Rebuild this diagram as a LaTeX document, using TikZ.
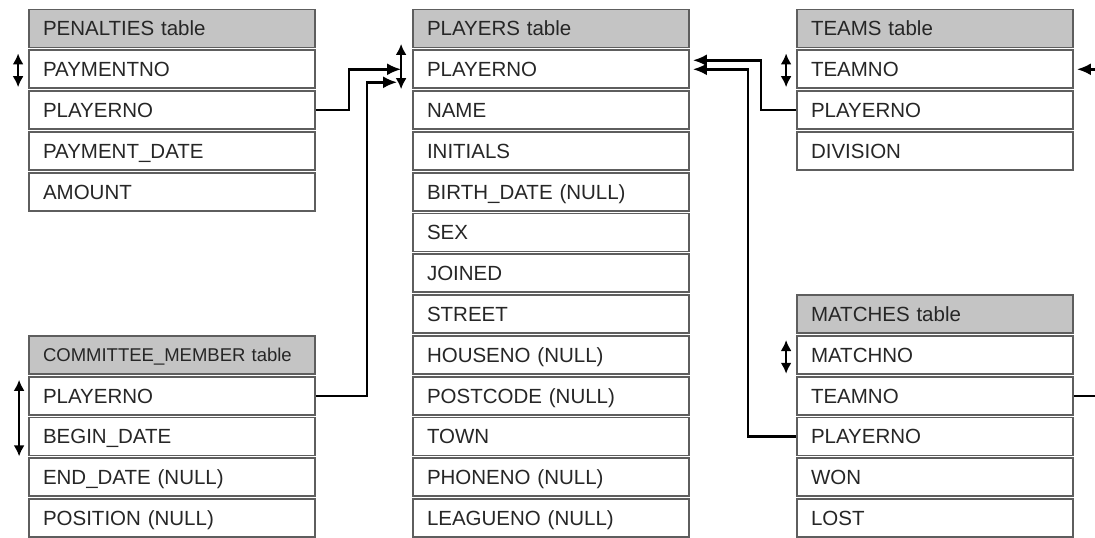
\documentclass[tikz,border=0pt]{standalone}
\usepackage{fontspec}
\setmainfont{Liberation Sans}
\usetikzlibrary{arrows.meta,calc}
\definecolor{hdr}{HTML}{C4C4C4}
\definecolor{bord}{HTML}{5E5E5E}
\definecolor{txt}{HTML}{262626}
\begin{document}
\begin{tikzpicture}[x=1pt,y=-1pt,
  cell/.style={draw=bord, line width=1.8pt, fill=white, minimum height=38pt,
    inner xsep=14pt, inner ysep=0pt, align=left, text=txt,
    text height=14.6pt, text depth=0pt,
    font=\fontsize{20.5}{22}\selectfont, anchor=center},
  wide/.style={cell, text width=258pt},
  narrow/.style={cell, text width=248pt},
  hdrcell/.style={fill=hdr},
  conn/.style={draw=black, line width=2.4pt},
  arr/.style={conn, -{Latex[length=14pt,width=12pt]}},
  pk/.style={line width=2.5pt, {Latex[length=11pt,width=11pt]}-{Latex[length=11pt,width=11pt]}}
]
\useasboundingbox (0,0) rectangle (1095,538);
\clip (0,0) rectangle (1095,538);

% PENALTIES
\node[wide,hdrcell] (pen0) at (172,28.5) {PENALTIES table};
\foreach \t [count=\k] in {PAYMENTNO,PLAYERNO,PAYMENT\_DATE,AMOUNT}
  \node[wide] (pen\k) at (172,{28.5+40.8*\k}) {\t};

% COMMITTEE_MEMBER
\node[wide,hdrcell,font=\fontsize{18.5}{21}\selectfont,text height=13.3pt] (com8) at (172,{28.5+40.8*8}) {COMMITTEE\_MEMBER table};
\foreach \t [count=\k from 9] in {PLAYERNO,BEGIN\_DATE,END\_DATE (NULL),POSITION (NULL)}
  \node[wide] (com\k) at (172,{28.5+40.8*\k}) {\t};

% PLAYERS
\node[narrow,hdrcell] (pl0) at (551,28.5) {PLAYERS table};
\foreach \t [count=\k] in {PLAYERNO,NAME,INITIALS,BIRTH\_DATE (NULL),SEX,JOINED,STREET,HOUSENO (NULL),POSTCODE (NULL),TOWN,PHONENO (NULL),LEAGUENO (NULL)}
  \node[narrow] (pl\k) at (551,{28.5+40.8*\k}) {\t};

% TEAMS
\node[narrow,hdrcell] (tm0) at (935,28.5) {TEAMS table};
\foreach \t [count=\k] in {TEAMNO,PLAYERNO,DIVISION}
  \node[narrow] (tm\k) at (935,{28.5+40.8*\k}) {\t};

% MATCHES
\node[narrow,hdrcell] (mt7) at (935,{28.5+40.8*7}) {MATCHES table};
\foreach \t [count=\k from 8] in {MATCHNO,TEAMNO,PLAYERNO,WON,LOST}
  \node[narrow] (mt\k) at (935,{28.5+40.8*\k}) {\t};

% connectors
\draw[arr] (pen2.east) -- ++(33,0) |- ([xshift=-11pt]pl1.west);
\draw[arr] (com9.east) -- ++(51,0) |- ([xshift=-15pt,yshift=-13pt]pl1.west);
\draw[arr] (tm2.west) -- ++(-35,0) |- ([xshift=3pt,yshift=9pt]pl1.east);
\draw[arr] (mt10.west) -- ++(-48,0) |- ([xshift=3pt]pl1.east);
\draw[arr] (mt9.east) -- ++(40,0) |- ([xshift=3pt]tm1.east);

% primary key markers
\draw[pk] ([xshift=-10pt,yshift=-4pt]pen1.north west) -- ([xshift=-10pt,yshift=2pt]pen1.south west);
\draw[pk] ([xshift=-11pt,yshift=5.5pt]pl1.north west) -- ([xshift=-11pt]pl1.south west);
\draw[pk] ([xshift=-10pt,yshift=-4pt]tm1.north west) -- ([xshift=-10pt,yshift=2pt]tm1.south west);
\draw[pk] ([xshift=-10pt,yshift=-5pt]mt8.north west) -- ([xshift=-10pt,yshift=1pt]mt8.south west);
\draw[pk] ([xshift=-9pt,yshift=-4pt]com9.north west) -- ([xshift=-9pt]com10.south west);
\end{tikzpicture}
\end{document}
